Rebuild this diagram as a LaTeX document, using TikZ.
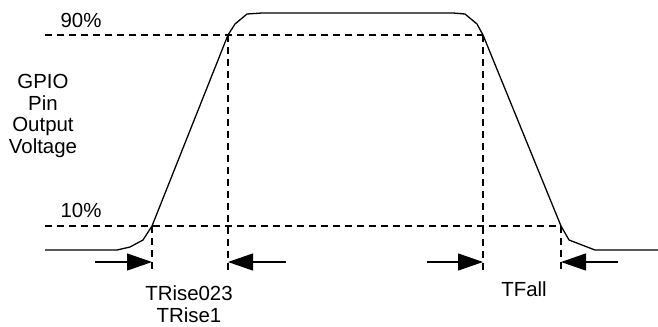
\documentclass[tikz,border=0pt]{standalone}
\usepackage{fontspec}
\setmainfont{Liberation Sans}
\usetikzlibrary{arrows.meta}
\begin{document}
\begin{tikzpicture}[x=1bp,y=-1bp,
  wave/.style={line width=1.3bp, line join=round},
  guide/.style={line width=1.2bp, dash pattern=on 7bp off 5bp},
  dim/.style={line width=1.2bp, -{Triangle[length=25bp,width=17bp]}},
  lbl/.style={font=\fontsize{20.5}{22}\selectfont, inner sep=0pt, align=center},
]
\useasboundingbox (0,0) rectangle (658,326);
% key points
\coordinate (lo1) at (152,226);
\coordinate (hi1) at (228,35);
\coordinate (hi2) at (483,35);
\coordinate (lo2) at (561,226);
% waveform
\draw[wave] (45,250) -- (117,250) -- (130,247) -- (143,240) -- (lo1) -- (hi1)
  -- (235,24) -- (247,14) -- (262,13) -- (453,13) -- (465,14) -- (477,24)
  -- (hi2) -- (lo2) -- (569,240) -- (595,250) -- (658,250);
% threshold guides
\coordinate (g90) at (45,35);
\coordinate (g10) at (45,226);
\draw[guide] (g90) -- (hi2);
\draw[guide] (g10) -- (lo2);
\coordinate (v1) at (152,273);
\coordinate (v2) at (228,270);
\coordinate (v3) at (483,270);
\coordinate (v4) at (561,274);
\draw[guide] (lo1) -- (v1);
\draw[guide] (hi1) -- (v2);
\draw[guide] (hi2) -- (v3);
\draw[guide] (lo2) -- (v4);
% dimension arrows
\coordinate (a1s) at (95,262);   \coordinate (a1e) at (152,262);
\coordinate (a2s) at (286,262);  \coordinate (a2e) at (228,262);
\coordinate (a3s) at (427,262);  \coordinate (a3e) at (483,262);
\coordinate (a4s) at (618,262);  \coordinate (a4e) at (561,262);
\draw[dim] (a1s) -- (a1e);
\draw[dim] (a2s) -- (a2e);
\draw[dim] (a3s) -- (a3e);
\draw[dim] (a4s) -- (a4e);
% labels
\node[lbl] (p90) at (81,20) {90\%};
\node[lbl] (p10) at (81,210) {10\%};
\node[lbl] (ylab) at (43,116) {GPIO\\Pin\\Output\\Voltage};
\node[lbl] (trise) at (189,304) {TRise023\\TRise1};
\node[lbl] (tfall) at (524,289) {TFall};
\end{tikzpicture}
\end{document}
